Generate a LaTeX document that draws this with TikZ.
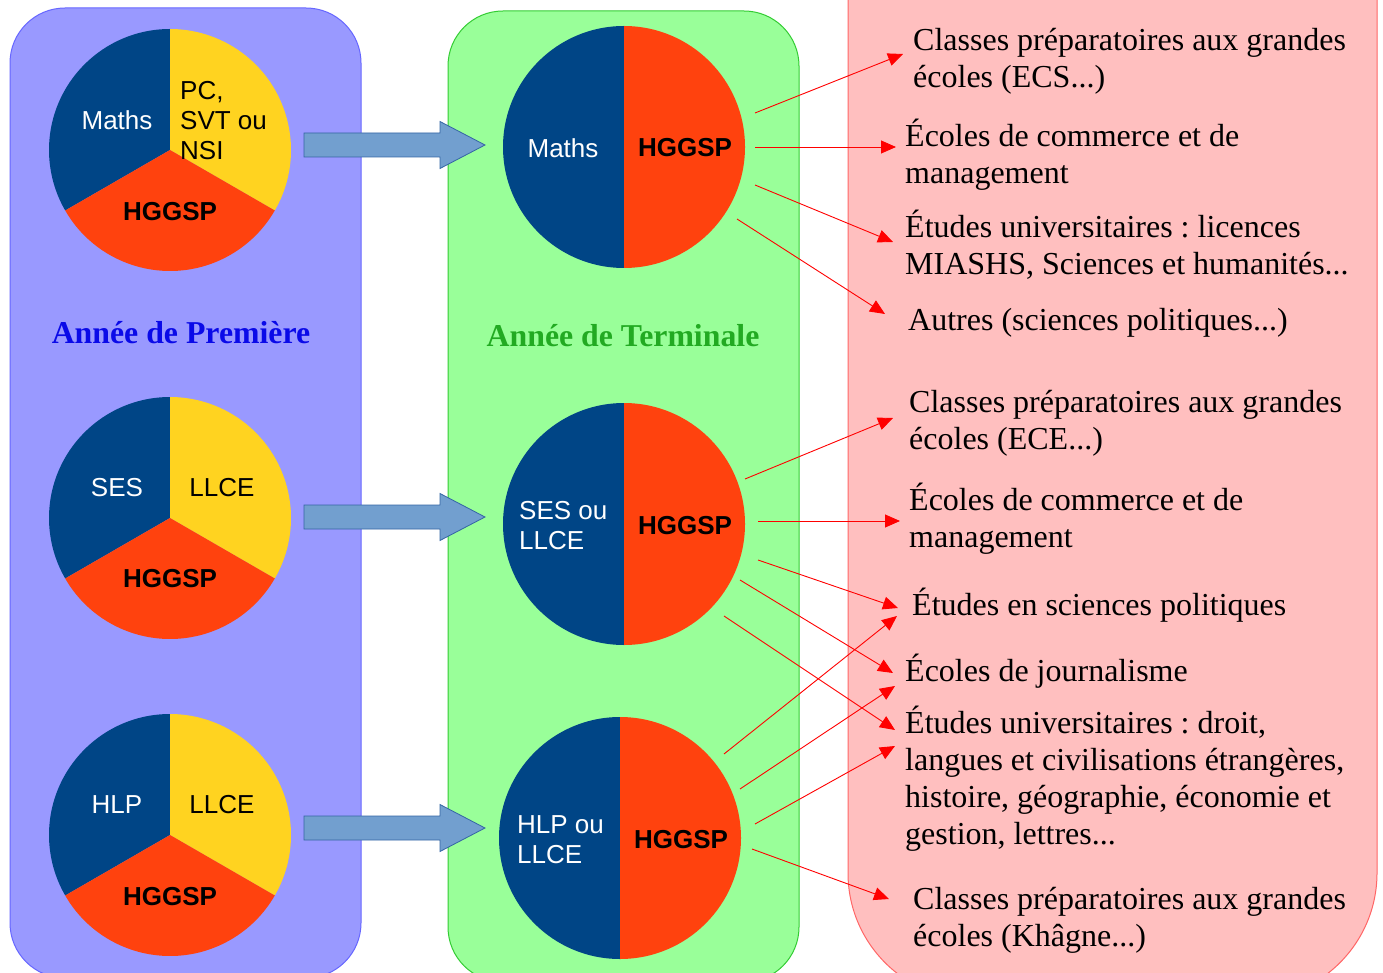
\documentclass[tikz,border=0pt]{standalone}
\usepackage{fontspec}
\setmainfont{Liberation Serif}
\setsansfont{Liberation Sans}
\usetikzlibrary{arrows.meta}
\frenchspacing

\definecolor{panelblue}{HTML}{9999FF}
\definecolor{edgeblue}{HTML}{6666FF}
\definecolor{panelgreen}{HTML}{99FF99}
\definecolor{edgegreen}{HTML}{33CC33}
\definecolor{panelred}{HTML}{FFBFBF}
\definecolor{edgered}{HTML}{FF6666}
\definecolor{piena}{HTML}{004586}
\definecolor{pieyel}{HTML}{FFD320}
\definecolor{pieora}{HTML}{FF420E}
\definecolor{arrowblue}{HTML}{729FCF}
\definecolor{arrowedge}{HTML}{3465A4}
\definecolor{titleblue}{HTML}{0A0AE8}
\definecolor{titlegreen}{HTML}{22AA22}

\begin{document}
\begin{tikzpicture}
        [x=1pt, y=-1pt,
         panel/.style={rounded corners=55pt, line width=1pt},
         pielabel/.style={font=\sffamily\fontsize{26}{30}\selectfont,
                          inner sep=0pt,
                          align=left},
         choice/.style={anchor=west,
                        inner sep=0pt,
                        align=left,
                        font=\fontsize{32}{37}\selectfont},
         yeartitle/.style={font=\bfseries\fontsize{31.8}{36}\selectfont},
         blockarrow/.style={fill=arrowblue, draw=arrowedge, line width=0.8pt},
         link/.style={-{Triangle[length=15pt, width=13pt]}, red, line width=0.9pt}]

        \clip (0,0) rectangle (1383,973);
        \newcommand{\pieslice}[5]{\fill[#5] (#1) -- ++(#3:#2) arc[start angle=#3, end angle=#4, radius=#2] -- cycle;}

        % the three panels
        \draw[panel, fill=panelblue, draw=edgeblue] (10,8) rectangle (361,978);
        \draw[panel, fill=panelgreen, draw=edgegreen] (448,11) rectangle (799,982);
        \draw[panel, rounded corners=127pt, fill=panelred, draw=edgered] (848,-200) rectangle (1377,1000);

        % premiere pies
        \coordinate (a1) at (170,150);
        \coordinate (a2) at (170,518);
        \coordinate (a3) at (170,835);
        \foreach \c in {a1,a2,a3} {
                \pieslice{\c}{121}{-90}{-210}{piena}
                \pieslice{\c}{121}{30}{-90}{pieyel}
                \pieslice{\c}{121}{-210}{-330}{pieora}
        }

        \node[pielabel, white] (a1 left) at (117,120) {Maths};
        \node[pielabel, anchor=west] (a1 right) at (180,121) {PC,\\SVT ou\\NSI};
        \node[pielabel, font=\sffamily\bfseries\fontsize{26}{30}\selectfont] (a1 low) at (170,212) {HGGSP};

        \node[pielabel, white] (a2 left) at (117,488) {SES};
        \node[pielabel] (a2 right) at (222,488) {LLCE};
        \node[pielabel, font=\sffamily\bfseries\fontsize{26}{30}\selectfont] (a2 low) at (170,579) {HGGSP};

        \node[pielabel, white] (a3 left) at (117,805) {HLP};
        \node[pielabel] (a3 right) at (222,805) {LLCE};
        \node[pielabel, font=\sffamily\bfseries\fontsize{26}{30}\selectfont] (a3 low) at (170,897) {HGGSP};

        % terminale pies
        \coordinate (q1) at (624,147);
        \coordinate (q2) at (624,524);
        \coordinate (q3) at (620,838);
        \foreach \c in {q1,q2,q3} {
                \pieslice{\c}{121}{-90}{-270}{piena}
                \pieslice{\c}{121}{90}{-90}{pieora}
        }

        \node[pielabel, white] (q1 left) at (563,148) {Maths};
        \node[pielabel, font=\sffamily\bfseries\fontsize{26}{30}\selectfont] (q1 right) at (685,148) {HGGSP};
        \node[pielabel, white, anchor=west] (q2 left) at (519,526) {SES ou\\LLCE};
        \node[pielabel, font=\sffamily\bfseries\fontsize{26}{30}\selectfont] (q2 right) at (685,526) {HGGSP};
        \node[pielabel, white, anchor=west] (q3 left) at (517,840) {HLP ou\\LLCE};
        \node[pielabel, font=\sffamily\bfseries\fontsize{26}{30}\selectfont] (q3 right) at (681,840) {HGGSP};

        \node[yeartitle, titleblue] (premiere) at (181,333) {Année de Première};
        \node[yeartitle, titlegreen] (terminale) at (623,336) {Année de Terminale};

        % big arrows
        \foreach \y in {145,517,828}
                \draw[blockarrow] (304,\y-12) -- ++(136,0) -- ++(0,-11.5) -- (485,\y)
                        -- (440,\y+23.5) -- ++(0,-11.5) -- (304,\y+12) -- cycle;

        % what comes after
        \node[choice] (t1) at (913,61.5) {Classes préparatoires aux grandes\\écoles (ECS...)};
        \node[choice] (t2) at (905,154.5) {Écoles de commerce et de\\management};
        \node[choice] (t3) at (905,245) {Études universitaires : licences\\MIASHS, Sciences et humanités...};
        \node[choice] (t4) at (908,323) {Autres (sciences politiques...)};
        \node[choice] (t5) at (909,423) {Classes préparatoires aux grandes\\écoles (ECE...)};
        \node[choice] (t6) at (909,519) {Écoles de commerce et de\\management};
        \node[choice] (t7) at (912,605) {Études en sciences politiques};
        \node[choice] (t8) at (905,671) {Écoles de journalisme};
        \node[choice] (t9) at (905,779) {Études universitaires : droit,\\langues et civilisations étrangères,\\histoire, géographie, économie et\\gestion, lettres...};
        \node[choice] (t10) at (913,920.5) {Classes préparatoires aux grandes\\écoles (Khâgne...)};

        \draw[link] ([shift={(131,-34)}]q1) -- ([shift={(-10,-7.5)}]t1.west);
        \draw[link] ([shift={(131,0)}]q1) -- ([shift={(-9,-7.5)}]t2.west);
        \draw[link] ([shift={(131,38)}]q1) -- ([shift={(-12,-3)}]t3.west);
        \draw[link] ([shift={(113,72)}]q1) -- ([shift={(-23,-9)}]t4.west);

        \draw[link] ([shift={(121,-45)}]q2) -- ([shift={(-16,-5)}]t5.west);
        \draw[link] ([shift={(134,-3)}]q2) -- ([shift={(-9,2)}]t6.west);
        \draw[link] ([shift={(134,36)}]q2) -- ([shift={(-14,3)}]t7.west);
        \draw[link] ([shift={(116,56)}]q2) -- ([shift={(-12,2)}]t8.west);
        \draw[link] ([shift={(100,92)}]q2) -- ([shift={(-10,-49)}]t9.west);

        \draw[link] ([shift={(104,-84)}]q3) -- ([shift={(-15,11)}]t7.west);
        \draw[link] ([shift={(120,-49)}]q3) -- ([shift={(-10,15)}]t8.west);
        \draw[link] ([shift={(135,-14)}]q3) -- ([shift={(-10,-33)}]t9.west);
        \draw[link] ([shift={(132,11)}]q3) -- ([shift={(-24,-21.5)}]t10.west);
\end{tikzpicture}
\end{document}
